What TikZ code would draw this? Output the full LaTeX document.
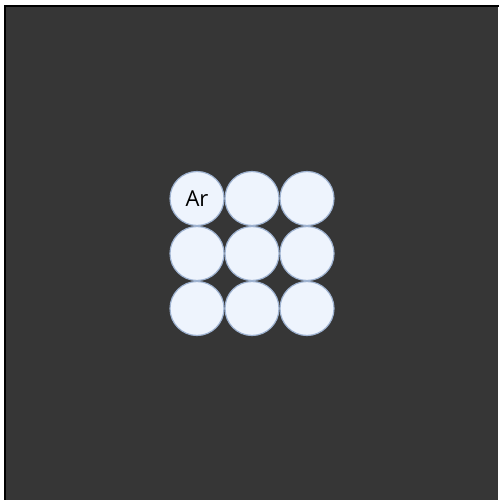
\documentclass[tikz,border=0pt]{standalone}
\usepackage{fontspec}
\setmainfont{Open Sans}
\definecolor{bg}{HTML}{363636}
\definecolor{atomfill}{HTML}{EEF4FD}
\definecolor{atomedge}{HTML}{9FB3D1}
\begin{document}
\begin{tikzpicture}[x=1pt,y=-1pt,
  atom/.style={circle,draw=atomedge,fill=atomfill,line width=1.2pt,minimum size=54pt,inner sep=0pt,font=\fontsize{22}{24}\selectfont}]
\useasboundingbox (0,0) rectangle (498,500);
\fill[white] (0,0) rectangle (498,500);
\fill[bg] (5,6) rectangle (498,500);
\draw[black,line width=2pt] (5,502) -- (5,6) -- (500,6);
\node[atom] (a11) at (197,198.5) {Ar};
\node[atom] (a12) at (252,198.5) {};
\node[atom] (a13) at (307,198.5) {};
\node[atom] (a21) at (197,253.5) {};
\node[atom] (a22) at (252,253.5) {};
\node[atom] (a23) at (307,253.5) {};
\node[atom] (a31) at (197,308.5) {};
\node[atom] (a32) at (252,308.5) {};
\node[atom] (a33) at (307,308.5) {};
\end{tikzpicture}
\end{document}
